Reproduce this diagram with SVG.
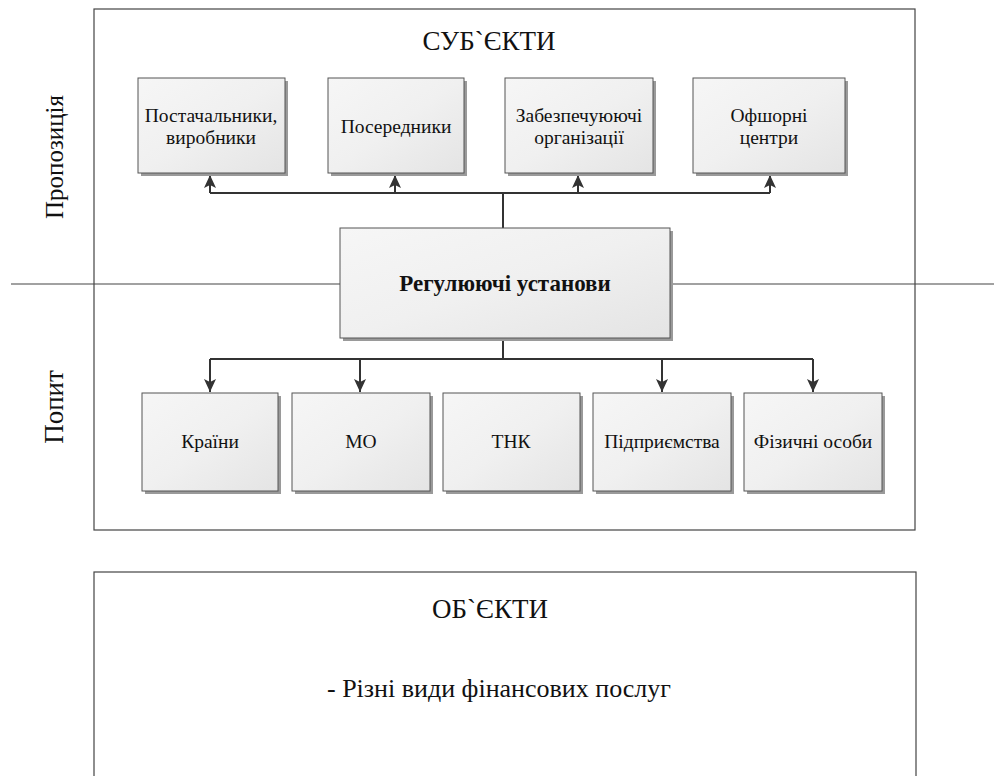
<svg xmlns="http://www.w3.org/2000/svg" width="994" height="776" viewBox="0 0 994 776">
<defs>
<linearGradient id="g" x1="0" y1="0" x2="1" y2="1">
<stop offset="0" stop-color="#f6f6f6"/>
<stop offset="0.5" stop-color="#f0f0f0"/>
<stop offset="1" stop-color="#e4e4e4"/>
</linearGradient>
<marker id="ah" markerUnits="userSpaceOnUse" markerWidth="14" markerHeight="14" viewBox="0 0 14 14" refX="13" refY="7" orient="auto">
<path d="M0,1 L13,7 L0,13 L3,7 Z" fill="#333"/>
</marker>
</defs>
<style>
text{fill:#111;font-family:"Liberation Serif","Times New Roman",serif}
.frame{fill:none;stroke:#444;stroke-width:1.2}
.box{fill:url(#g);stroke:#555;stroke-width:1}
.sh{fill:#9a9a9a}
.t{font-size:19.5px;text-anchor:middle}
.c{fill:none;stroke:#333;stroke-width:2}
.a{fill:none;stroke:#333;stroke-width:2;marker-end:url(#ah)}
</style>
<rect width="994" height="776" fill="#ffffff"/>
<rect class="frame" x="94" y="9" width="821" height="521"/>
<line x1="11" y1="284" x2="994" y2="284" stroke="#444" stroke-width="1.2"/>
<text x="489" y="50" font-size="27" text-anchor="middle">СУБ`ЄКТИ</text>
<text transform="translate(63,157) rotate(-90)" font-size="25" text-anchor="middle">Пропозиція</text>
<text transform="translate(63,407) rotate(-90)" font-size="27" text-anchor="middle">Попит</text>
<g id="connectors">
<polyline class="c" points="503,228 503,193"/>
<polyline class="c" points="210,193 770,193"/>
<line class="a" x1="210" y1="193" x2="210" y2="175"/>
<line class="a" x1="395" y1="193" x2="395" y2="175"/>
<line class="a" x1="578" y1="193" x2="578" y2="175"/>
<line class="a" x1="770" y1="193" x2="770" y2="175"/>
<polyline class="c" points="503,340 503,359"/>
<polyline class="c" points="210,359 813,359"/>
<line class="a" x1="210" y1="359" x2="210" y2="392"/>
<line class="a" x1="360" y1="359" x2="360" y2="392"/>
<line class="a" x1="662" y1="359" x2="662" y2="392"/>
<line class="a" x1="813" y1="359" x2="813" y2="392"/>
</g>
<g id="n-postach">
<rect class="sh" x="141" y="81" width="147" height="95"/>
<rect class="box" x="138" y="78" width="147" height="95"/>
<text class="t" x="211" y="122">Постачальники,</text>
<text class="t" x="211" y="144">виробники</text>
</g>
<g id="n-poseredn">
<rect class="sh" x="331" y="81" width="136" height="95"/>
<rect class="box" x="328" y="78" width="136" height="95"/>
<text class="t" x="396" y="133">Посередники</text>
</g>
<g id="n-zabezp">
<rect class="sh" x="508" y="81" width="148" height="95"/>
<rect class="box" x="505" y="78" width="148" height="95"/>
<text class="t" x="579" y="122">Забезпечуюючі</text>
<text class="t" x="579" y="144">організації</text>
</g>
<g id="n-offshore">
<rect class="sh" x="696" y="81" width="152" height="95"/>
<rect class="box" x="693" y="78" width="152" height="95"/>
<text class="t" x="769" y="122">Офшорні</text>
<text class="t" x="769" y="144">центри</text>
</g>
<g id="n-regul">
<rect class="sh" x="343" y="231" width="330" height="110"/>
<rect class="box" x="340" y="228" width="330" height="110"/>
<text x="505" y="291" font-size="23" font-weight="bold" text-anchor="middle">Регулюючі установи</text>
</g>
<g id="n-krainy">
<rect class="sh" x="145" y="396" width="136" height="98"/>
<rect class="box" x="142" y="393" width="136" height="98"/>
<text class="t" x="210" y="448">Країни</text>
</g>
<g id="n-mo">
<rect class="sh" x="295" y="396" width="138" height="98"/>
<rect class="box" x="292" y="393" width="138" height="98"/>
<text class="t" x="361" y="448">МО</text>
</g>
<g id="n-tnk">
<rect class="sh" x="446" y="396" width="137" height="98"/>
<rect class="box" x="443" y="393" width="137" height="98"/>
<text class="t" x="511" y="448">ТНК</text>
</g>
<g id="n-pidpr">
<rect class="sh" x="596" y="396" width="138" height="98"/>
<rect class="box" x="593" y="393" width="138" height="98"/>
<text class="t" x="662" y="448">Підприємства</text>
</g>
<g id="n-fiz">
<rect class="sh" x="747" y="396" width="138" height="98"/>
<rect class="box" x="744" y="393" width="138" height="98"/>
<text class="t" x="813" y="448">Фізичні особи</text>
</g>
<g id="n-objects">
<rect class="frame" x="94" y="572" width="822" height="230"/>
<text x="490" y="618" font-size="27" text-anchor="middle">ОБ`ЄКТИ</text>
<text x="499" y="697" font-size="26" text-anchor="middle">- Різні види фінансових послуг</text>
</g>
</svg>
